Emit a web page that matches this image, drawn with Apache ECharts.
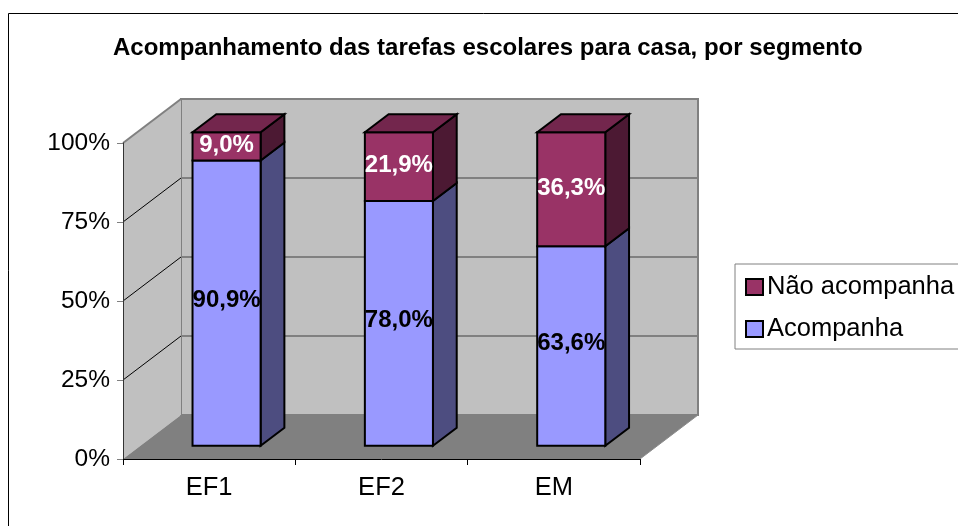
<!DOCTYPE html>
<html>
<head>
<meta charset="utf-8">
<style>html,body{margin:0;padding:0;background:#fff}#c{width:958px;height:526px}</style>
<script src="https://cdn.jsdelivr.net/npm/echarts@6/dist/echarts.min.js"></script>
</head>
<body>
<div id="c"></div>
<script>
const titleText = 'Acompanhamento das tarefas escolares para casa, por segmento';
const categories = ['EF1', 'EF2', 'EM'];
const acompanha = [90.9, 78.0, 63.6];
const naoAcompanha = [9.0, 21.9, 36.3];
const labelsAcompanha = ['90,9%', '78,0%', '63,6%'];
const labelsNao = ['9,0%', '21,9%', '36,3%'];
const yTicks = [0, 25, 50, 75, 100];

const FONT = '"Liberation Sans", Arial, sans-serif';
const DEPTH = [58, -44];      // oblique projection of the full floor depth
const BAR_FRONT = 0.30, BAR_BACK = 0.71, BAR_HALF = 0.1975;

const chart = echarts.init(document.getElementById('c'), null, {renderer: 'canvas'});

function shifted(p, d) { return [p[0] + DEPTH[0] * d, p[1] + DEPTH[1] * d]; }

function renderWalls(params, api) {
  const band = api.size([1, 0])[0];
  const x0 = api.coord([0, 0]);
  const x1 = api.coord([categories.length - 1, 0]);
  const t0 = api.coord([0, 100]);
  const bl = [x0[0] - band / 2, x0[1]];
  const br = [x1[0] + band / 2, x1[1]];
  const tl = [t0[0] - band / 2, t0[1]];
  const children = [];
  const bbl = shifted(bl, 1), bbr = shifted(br, 1), btl = shifted(tl, 1);
  const btr = [bbr[0], btl[1]];
  children.push({type: 'polygon', shape: {points: [btl, btr, bbr, bbl]},
    style: {fill: '#c0c0c0', stroke: '#808080', lineWidth: 2}});
  children.push({type: 'polygon', shape: {points: [tl, btl, bbl, bl]},
    style: {fill: '#c0c0c0', stroke: null}});
  children.push({type: 'line', shape: {x1: tl[0], y1: tl[1], x2: btl[0], y2: btl[1]},
    style: {stroke: '#808080', lineWidth: 2}});
  yTicks.forEach(function (t) {
    if (t === 0 || t === 100) return;
    const p = api.coord([0, t]);
    const a = [bl[0], p[1]];
    const b = shifted(a, 1);
    children.push({type: 'line', shape: {x1: a[0], y1: a[1], x2: b[0], y2: b[1]},
      style: {stroke: '#000', lineWidth: 1}});
    children.push({type: 'line', shape: {x1: b[0], y1: b[1], x2: bbr[0], y2: b[1]},
      style: {stroke: '#808080', lineWidth: 2}});
  });
  children.push({type: 'polygon', shape: {points: [bl, br, bbr, bbl]},
    style: {fill: '#808080', stroke: null}});
  children.push({type: 'line', shape: {x1: br[0], y1: br[1], x2: bbr[0], y2: bbr[1]},
    style: {stroke: '#8c8c8c', lineWidth: 1}});
  return {type: 'group', children: children};
}

function renderBlock(opts) {
  return function (params, api) {
    const i = api.value(0);
    const from = opts.base ? opts.base[i] : 0;
    const to = from + api.value(1);
    const band = api.size([1, 0])[0];
    const lo = api.coord([i, from]), hi = api.coord([i, to]);
    const hw = band * BAR_HALF;
    const fbl = shifted([lo[0] - hw, lo[1]], BAR_FRONT);
    const fbr = shifted([lo[0] + hw, lo[1]], BAR_FRONT);
    const ftl = shifted([lo[0] - hw, hi[1]], BAR_FRONT);
    const ftr = shifted([lo[0] + hw, hi[1]], BAR_FRONT);
    const off = function (p) { return shifted(p, BAR_BACK - BAR_FRONT); };
    const edge = {stroke: '#000', lineWidth: 2, lineJoin: 'miter'};
    const children = [
      {type: 'polygon', shape: {points: [ftr, off(ftr), off(fbr), fbr]},
        style: Object.assign({fill: opts.side}, edge)},
      {type: 'polygon', shape: {points: [ftl, ftr, fbr, fbl]},
        style: Object.assign({fill: opts.front}, edge)}
    ];
    if (opts.top) {
      children.push({type: 'polygon', shape: {points: [ftl, off(ftl), off(ftr), ftr]},
        style: Object.assign({fill: opts.top}, edge)});
    }
    children.push({type: 'text', z2: 10, style: {
      x: (ftl[0] + ftr[0]) / 2 + opts.dx,
      y: (ftl[1] + fbl[1]) / 2 + opts.dy,
      text: opts.labels[i], fill: opts.textColor,
      font: 'bold 24px ' + FONT, align: 'center', verticalAlign: 'middle'
    }});
    return {type: 'group', children: children};
  };
}

chart.setOption({
  animation: false,
  backgroundColor: '#fff',
  title: {
    text: titleText, left: 113, top: 36, padding: 0,
    textStyle: {fontFamily: FONT, fontSize: 24, fontWeight: 'bold', color: '#000'}
  },
  graphic: [{
    type: 'rect', silent: true, z: -10,
    shape: {x: 8.5, y: 13.5, width: 1000, height: 600},
    style: {fill: '#fff', stroke: '#000', lineWidth: 1}
  }],
  legend: {
    left: 735, top: 264, orient: 'vertical',
    data: ['Não acompanha', 'Acompanha'],
    icon: 'rect', itemWidth: 17, itemHeight: 16, itemGap: 16,
    padding: [10, 30, 7, 10],
    borderColor: '#808080', borderWidth: 1, backgroundColor: '#fff',
    selectedMode: false,
    itemStyle: {borderColor: '#000', borderWidth: 2},
    textStyle: {fontFamily: FONT, fontSize: 25.5, color: '#000', padding: [0, 0, 0, -1]}
  },
  grid: {left: 123, top: 143, width: 517, height: 316},
  xAxis: {
    type: 'category', data: categories, z: 4,
    axisLine: {lineStyle: {color: '#000', width: 1}},
    axisTick: {show: true, length: 6, alignWithLabel: false, lineStyle: {color: '#000'}},
    axisLabel: {fontFamily: FONT, fontSize: 25.5, color: '#000', margin: 16},
    splitLine: {show: false}
  },
  yAxis: [{
    type: 'value', min: 0, max: 100, interval: 25, z: 4,
    axisLine: {show: true, lineStyle: {color: '#333', width: 1}},
    axisTick: {show: true, length: 6, lineStyle: {color: '#808080'}},
    axisLabel: {fontFamily: FONT, fontSize: 24.5, color: '#000', margin: 13, padding: [2, 0, 0, 0], formatter: '{value}%'},
    splitLine: {show: false}
  }, {
    // bars sit slightly deeper in the 3D box, so their height scale is a touch shorter
    type: 'value', min: 0, max: 100.7, show: false, splitLine: {show: false}
  }],
  series: [{
    type: 'custom', name: 'walls', z: 1, silent: true, xAxisIndex: 0, yAxisIndex: 0,
    data: [[0, 0]], encode: {x: 0, y: 1}, renderItem: renderWalls, clip: false
  }, {
    type: 'custom', name: 'Acompanha', z: 6, silent: true, xAxisIndex: 0, yAxisIndex: 1,
    itemStyle: {color: '#9999ff'},
    data: acompanha.map(function (v, i) { return [i, v]; }), encode: {x: 0, y: 1},
    renderItem: renderBlock({front: '#9999ff', side: '#4d4d80', labels: labelsAcompanha,
      textColor: '#000', dx: 0, dy: -3}),
    clip: false
  }, {
    type: 'custom', name: 'Não acompanha', z: 7, silent: true, xAxisIndex: 0, yAxisIndex: 1,
    itemStyle: {color: '#993366'},
    data: naoAcompanha.map(function (v, i) { return [i, v]; }), encode: {x: 0, y: 1},
    renderItem: renderBlock({base: acompanha, front: '#993366', side: '#4c1933', top: '#73264d',
      labels: labelsNao, textColor: '#fff', dx: 0, dy: -1}),
    clip: false
  }]
});
</script>
</body>
</html>
